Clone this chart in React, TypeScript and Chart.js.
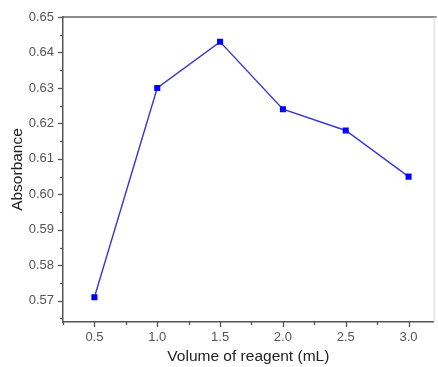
import React, { useEffect, useRef } from "react";
import { Chart, registerables } from "chart.js";

Chart.register(...registerables);

const volumes = [0.5, 1.0, 1.5, 2.0, 2.5, 3.0];
const absorbance = [0.571, 0.63, 0.643, 0.624, 0.618, 0.605];
const xTicks = [0.25, 0.5, 0.75, 1.0, 1.25, 1.5, 1.75, 2.0, 2.25, 2.5, 2.75, 3.0];
const yTicks = [0.565, 0.57, 0.575, 0.58, 0.585, 0.59, 0.595, 0.6, 0.605, 0.61, 0.615, 0.62, 0.625, 0.63, 0.635, 0.64, 0.645, 0.65];
const xTitle = "Volume of reagent (mL)";
const yTitle = "Absorbance";

const FONT = "'Liberation Sans', Arial, sans-serif";

const isMajor = (v: number, step: number) => Math.abs(v / step - Math.round(v / step)) < 1e-6;

const tickPlugin = {
  id: "customTicks",
  afterDraw(chart: any) {
    const { ctx, chartArea } = chart;
    const xs = chart.scales.x;
    const ys = chart.scales.y;
    ctx.save();
    ctx.strokeStyle = "#555";
    ctx.lineWidth = 1.3;
    xTicks.forEach((v) => {
      const px = Math.round(xs.getPixelForValue(v)) + 0.5;
      const len = isMajor(v, 0.5) ? 5 : 3;
      ctx.beginPath();
      ctx.moveTo(px, chartArea.bottom);
      ctx.lineTo(px, chartArea.bottom + len);
      ctx.stroke();
    });
    yTicks.forEach((v) => {
      const py = Math.round(ys.getPixelForValue(v)) + 0.5;
      const len = isMajor(v, 0.01) ? 5 : 3;
      ctx.beginPath();
      ctx.moveTo(chartArea.left, py);
      ctx.lineTo(chartArea.left - len, py);
      ctx.stroke();
    });
    // top frame line
    ctx.strokeStyle = "#666";
    ctx.lineWidth = 1.5;
    ctx.beginPath();
    ctx.moveTo(chartArea.left, chartArea.top);
    ctx.lineTo(chartArea.right + 3, chartArea.top);
    ctx.stroke();
    // right frame line (faint)
    ctx.strokeStyle = "#d8d8d8";
    ctx.lineWidth = 1;
    ctx.beginPath();
    ctx.moveTo(chartArea.right + 0.5, chartArea.top);
    ctx.lineTo(chartArea.right + 0.5, chartArea.bottom);
    ctx.stroke();
    ctx.restore();
  },
};

export default function App() {
  const ref = useRef<HTMLCanvasElement>(null);
  useEffect(() => {
    document.body.style.margin = "0";
    const canvas = ref.current;
    if (!canvas) return;
    const chart = new Chart(canvas, {
      type: "scatter",
      data: {
        datasets: [
          {
            data: volumes.map((v, i) => ({ x: v, y: absorbance[i] })),
            showLine: true,
            borderColor: "#3838cc",
            borderWidth: 1.4,
            backgroundColor: "#0000ff",
            pointStyle: "rect",
            pointRadius: 4.3,
            pointBorderWidth: 0,
            pointBackgroundColor: "#0000ff",
          },
        ],
      },
      options: {
        animation: false,
        responsive: false,
        devicePixelRatio: 1,
        layout: { padding: { top: 17, right: 3, left: 0, bottom: 0 } },
        plugins: { legend: { display: false }, tooltip: { enabled: false } },
        scales: {
          x: {
            type: "linear",
            min: 0.25,
            max: 3.2,
            afterBuildTicks: (s: any) => {
              s.ticks = xTicks.map((v) => ({ value: v }));
            },
            afterFit: (s: any) => {
              s.height = 45;
            },
            ticks: {
              autoSkip: false,
              maxRotation: 0,
              padding: 8,
              color: "#555",
              font: { family: FONT, size: 13 },
              callback: (v: any) => (isMajor(Number(v), 0.5) ? Number(v).toFixed(1) : ""),
            },
            grid: { display: true, drawOnChartArea: false, drawTicks: false },
            border: { display: true, color: "#555", width: 1.5 },
            title: {
              display: true,
              text: xTitle,
              color: "#222",
              font: { family: FONT, size: 15.5 },
              padding: { top: 0, bottom: 1 },
            },
          },
          y: {
            type: "linear",
            min: 0.564,
            max: 0.65,
            afterBuildTicks: (s: any) => {
              s.ticks = yTicks.map((v) => ({ value: v }));
            },
            afterFit: (s: any) => {
              s.width = 63;
            },
            ticks: {
              autoSkip: false,
              padding: 9,
              color: "#555",
              font: { family: FONT, size: 13 },
              callback: (v: any) => (isMajor(Number(v), 0.01) ? Number(v).toFixed(2) : ""),
            },
            grid: { display: true, drawOnChartArea: false, drawTicks: false },
            border: { display: true, color: "#555", width: 1.5 },
            title: {
              display: true,
              text: yTitle,
              color: "#222",
              font: { family: FONT, size: 15.5 },
              padding: { top: 8, bottom: 0 },
            },
          },
        },
      },
      plugins: [tickPlugin],
    });
    return () => chart.destroy();
  }, []);
  return (
    <canvas
      ref={ref}
      width={438}
      height={367}
      style={{ width: 438, height: 367, display: "block" }}
    />
  );
}
